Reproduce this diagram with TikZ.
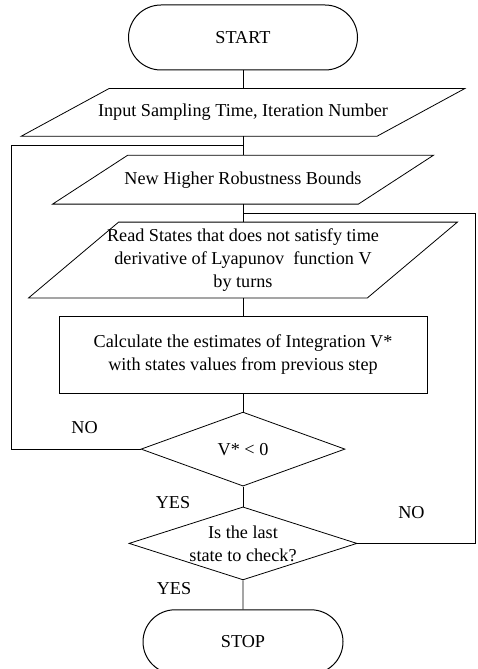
\documentclass[tikz,border=0pt]{standalone}
\usepackage{fontspec}
\setmainfont{Liberation Serif}
\usetikzlibrary{positioning,shapes.geometric,shapes.misc,calc}

\begin{document}
\begin{tikzpicture}[
  x=1pt, y=-1pt,
  line width=0.8pt,
  node distance=18pt,
  every node/.style={font=\fontsize{18.2}{23}\selectfont},
  term/.style={draw, rounded rectangle, line width=1pt, inner sep=2pt},
  io/.style={rectangle, inner sep=2pt, align=center},
  proc/.style={draw, rectangle, inner sep=2pt, align=center, minimum width=368pt, minimum height=77pt},
  dec/.style={draw, diamond, inner sep=0pt},
  lbl/.style={inner sep=1pt},
]
\useasboundingbox (0,0) rectangle (478,669);
\node[term, minimum width=233pt, minimum height=65pt] (start) at (243,37.5) {START};
\node[io, below=of start, minimum width=355pt, minimum height=47pt] (input) {Input Sampling Time, Iteration Number};
\node[io, below=19pt of input, minimum width=305pt, minimum height=48pt] (bounds) {New Higher Robustness Bounds};
\node[io, below=of bounds, minimum width=338pt, minimum height=75pt] (readst) {Read States that does not satisfy time\\ derivative of Lyapunov~ function V\\ by turns};
\node[proc, below=of readst] (calc) {Calculate the estimates of Integration V*\\ with states values from previous step};
\node[dec, below=of calc, minimum width=204pt, minimum height=74pt] (vneg) {V* < 0};
\node[dec, below=20pt of vneg, minimum width=228pt, minimum height=73pt, label={[align=center]center:Is the last\\ state to check?}] (last) {};
\node[term, below=29pt of last, minimum width=204pt, minimum height=64pt] (stop) {STOP};
\foreach \n/\s in {input/44, bounds/37.5, readst/45}
  \draw ([xshift=-\s pt]\n.south west) -- ([xshift=\s pt]\n.north west) -- ([xshift=\s pt]\n.north east) -- ([xshift=-\s pt]\n.south east) -- cycle;
\coordinate (ljoin) at ($(input.south)!.5!(bounds.north)$);
\coordinate (rjoin) at ($(bounds.south)!.5!(readst.north)$);
\coordinate (lcorner) at ([xshift=-232pt]ljoin);
\coordinate (rcorner) at ([xshift=232pt]rjoin);
\draw (start) -- (input);
\draw (input) -- (bounds);
\draw (bounds) -- (readst);
\draw (readst) -- (calc);
\draw (calc) -- (vneg);
\draw (vneg) -- (last);
\draw (last) -- (stop);
\draw (vneg.west) -| (lcorner) -- (ljoin);
\draw (last.east) -| (rcorner) -- (rjoin);
\node[lbl] (no1) at ([xshift=-56pt, yshift=22pt]vneg.west) {NO};
\node[lbl] (yes1) at ([xshift=-70pt, yshift=-16pt]vneg.south) {YES};
\node[lbl] (no2) at ([xshift=54pt, yshift=31pt]last.east) {NO};
\node[lbl] (yes2) at ([xshift=-69pt, yshift=-8pt]last.south) {YES};
\end{tikzpicture}
\end{document}
